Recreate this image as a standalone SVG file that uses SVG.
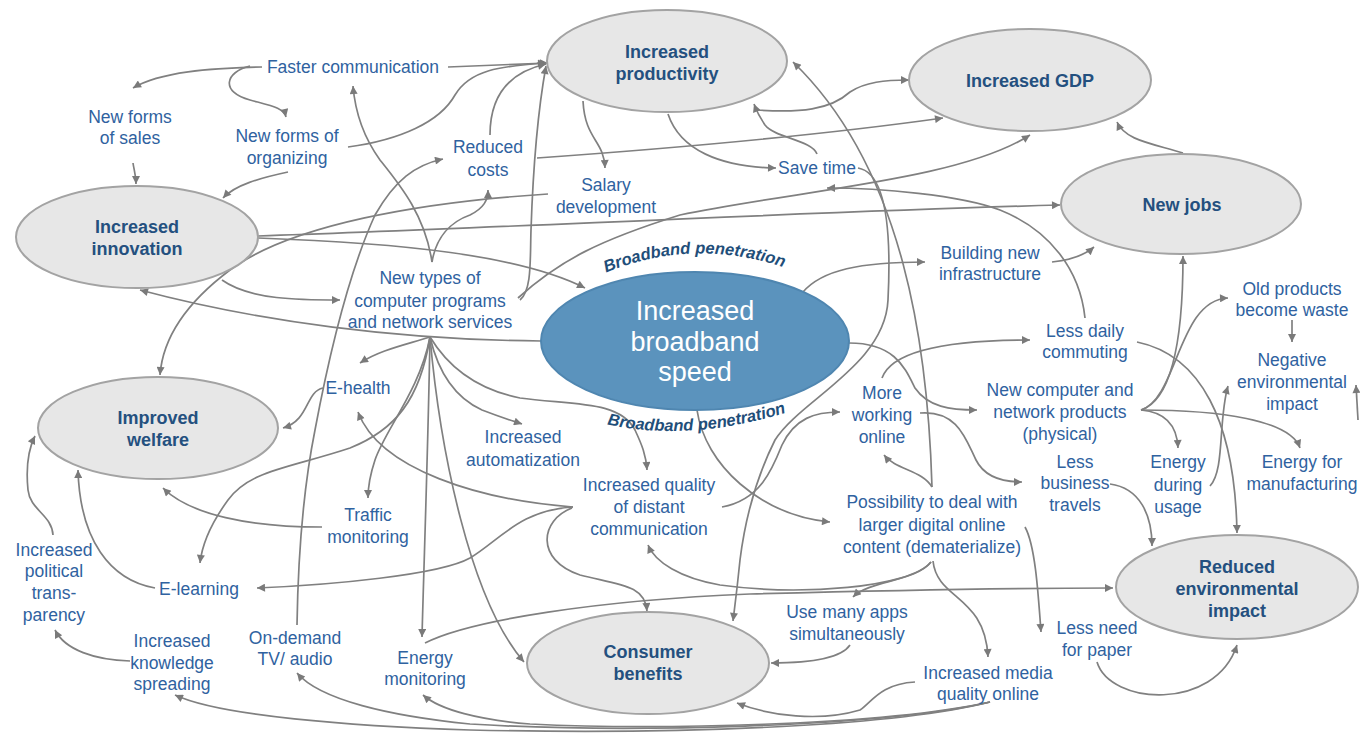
<svg xmlns="http://www.w3.org/2000/svg" width="1360" height="735" viewBox="0 0 1360 735">
<style>
.lbl{font-family:"Liberation Sans",Arial,sans-serif;font-size:17.5px;fill:#2f62a0;text-anchor:middle;dominant-baseline:central}
.el{fill:#e7e7e7;stroke:#a3a3a3;stroke-width:2}
.elt{font-family:"Liberation Sans",Arial,sans-serif;font-size:18px;font-weight:bold;fill:#24507f;text-anchor:middle;dominant-baseline:central}
.bb{fill:#5b93bd;stroke:#4f86b0;stroke-width:2}
.bbt{font-family:"Liberation Sans",Arial,sans-serif;font-size:27px;fill:#ffffff;text-anchor:middle;dominant-baseline:central}
.pen{font-family:"Liberation Sans",Arial,sans-serif;font-size:16.5px;font-weight:bold;font-style:italic;fill:#1f4e79}
#connectors path{fill:none;stroke:#808080;stroke-width:1.7;marker-end:url(#ah)}
</style>
<defs>
<marker id="ah" viewBox="0 0 10 10" refX="10" refY="5" markerWidth="11" markerHeight="8" markerUnits="userSpaceOnUse" orient="auto"><path d="M0,0 L10,5 L0,10 z" fill="#7a7a7a"/></marker>
<path id="penTop" d="M596,277 Q692,233 794,271"/>
<path id="penBot" d="M596,422 Q690,445 797,409"/>
</defs>
<rect width="1360" height="735" fill="#ffffff"/>
<g id="connectors">
<path d="M262,67 C210,68 160,72 133,88"/>
<path d="M250,66 C225,72 220,92 250,100 C272,106 284,108 286,117"/>
<path d="M448,67 L548,63"/>
<path d="M133,163 C134,170 136,175 136,184"/>
<path d="M288,172 C260,178 235,185 223,198"/>
<path d="M348,147 C400,140 440,122 455,95 C470,70 500,66 546,63"/>
<path d="M432,262 C425,215 400,185 380,160 C362,135 355,110 353,86"/>
<path d="M297,625 C298,560 303,490 315,430 C330,350 350,270 375,215 C395,180 415,165 443,159"/>
<path d="M432,262 C436,238 450,222 470,215 C484,208 488,200 488,190"/>
<path d="M490,135 C490,95 510,72 546,64"/>
<path d="M537,158 C650,150 800,138 943,118"/>
<path d="M757,110 C800,113 830,110 850,92 C865,82 885,80 909,80"/>
<path d="M583,101 C585,140 604,140 605,168"/>
<path d="M668,114 C680,150 720,167 776,168"/>
<path d="M817,154 C812,140 775,138 765,125 C760,118 757,112 754,104"/>
<path d="M1085,318 C1080,270 1050,230 1000,210 C960,195 880,188 827,188"/>
<path d="M858,168 C883,172 892,220 888,300 C885,365 800,400 775,440 C755,480 745,520 740,560 C737,590 735,605 733,621"/>
<path d="M697,410 C705,465 760,515 830,522"/>
<path d="M722,507 C760,500 772,470 782,445 C795,418 815,412 840,412"/>
<path d="M882,378 C892,350 950,340 1030,340"/>
<path d="M849,343 C895,343 905,368 915,388 C928,407 950,410 977,410"/>
<path d="M920,413 C958,410 966,440 976,460 C985,478 1005,482 1022,482"/>
<path d="M932,487 C922,470 896,470 884,455"/>
<path d="M803,292 C822,270 860,262 925,262"/>
<path d="M1052,262 C1070,260 1085,255 1094,247"/>
<path d="M1183,153 C1150,143 1125,140 1117,122"/>
<path d="M1141,410 C1172,400 1183,340 1183,256"/>
<path d="M1141,410 C1178,398 1178,300 1228,298"/>
<path d="M1292,320 L1292,342"/>
<path d="M1141,410 C1165,412 1177,425 1178,448"/>
<path d="M1141,410 C1220,410 1290,420 1300,448"/>
<path d="M1210,486 C1225,470 1218,420 1228,386"/>
<path d="M1358,420 L1356,385"/>
<path d="M1137,342 C1200,355 1235,420 1237,533"/>
<path d="M1110,484 C1140,488 1152,515 1152,546"/>
<path d="M1025,527 C1035,545 1038,590 1041,632"/>
<path d="M1097,662 C1110,705 1215,712 1237,645"/>
<path d="M933,561 C937,600 985,595 988,657"/>
<path d="M931,562 C915,582 870,580 853,597"/>
<path d="M425,643 C470,620 600,600 750,594 C900,590 1000,588 1113,588"/>
<path d="M931,562 C910,588 800,596 720,585 C680,578 655,562 648,545"/>
<path d="M572,508 C540,520 535,560 580,575 C620,585 645,585 647,611"/>
<path d="M573,507 C520,510 500,540 470,558 C440,575 330,585 257,588"/>
<path d="M573,507 C480,500 380,470 358,412"/>
<path d="M990,702 C900,725 700,735 470,730 C350,726 220,716 175,695"/>
<path d="M990,702 C880,728 620,733 470,724 C390,716 320,700 297,673"/>
<path d="M990,702 C880,726 650,730 530,724 C480,720 440,710 423,695"/>
<path d="M915,682 C880,684 872,702 860,710 C820,722 770,716 737,703"/>
<path d="M130,661 C95,660 65,650 55,630"/>
<path d="M53,535 C52,515 30,510 28,490 C26,470 28,450 35,436"/>
<path d="M155,588 C110,580 80,540 78,470"/>
<path d="M322,527 C250,527 190,515 163,488"/>
<path d="M430,337 C420,400 395,430 350,448 C290,468 250,470 228,500 C212,522 202,545 200,563"/>
<path d="M430,337 C405,345 380,350 360,363"/>
<path d="M430,337 C420,390 385,430 375,460 C370,475 368,485 368,498"/>
<path d="M430,337 C428,450 424,560 422,637"/>
<path d="M430,337 C440,450 470,600 524,662"/>
<path d="M430,337 C440,380 460,400 482,410 C500,417 510,420 522,424"/>
<path d="M430,337 C450,370 480,390 520,398 C570,405 620,400 635,430 C642,445 646,455 647,470"/>
<path d="M323,388 C305,392 310,420 283,428"/>
<path d="M541,341 C400,340 260,322 140,290"/>
<path d="M222,280 C250,300 300,300 340,300"/>
<path d="M258,238 C400,243 520,255 585,288"/>
<path d="M258,236 C500,228 800,212 1060,205"/>
<path d="M548,194 C420,202 290,225 230,270 C190,300 163,335 160,375"/>
<path d="M520,300 C532,290 530,260 531,230 C533,170 538,110 546,66"/>
<path d="M518,298 C560,260 600,240 680,215 C800,190 960,180 1030,135"/>
<path d="M850,645 C840,660 800,663 771,663"/>
<path d="M932,487 C928,350 905,170 793,62"/>
</g>
<g id="n-productivity"><ellipse class="el" cx="667" cy="61" rx="120" ry="51"/><text class="elt" x="667" y="52">Increased</text><text class="elt" x="667" y="74">productivity</text></g>
<g id="n-gdp"><ellipse class="el" cx="1030" cy="80" rx="121" ry="51"/><text class="elt" x="1030" y="81">Increased GDP</text></g>
<g id="n-newjobs"><ellipse class="el" cx="1181" cy="204" rx="120" ry="50"/><text class="elt" x="1182" y="205">New jobs</text></g>
<g id="n-innovation"><ellipse class="el" cx="137" cy="237" rx="121" ry="51"/><text class="elt" x="137" y="227">Increased</text><text class="elt" x="137" y="249">innovation</text></g>
<g id="n-welfare"><ellipse class="el" cx="158" cy="428" rx="120" ry="51"/><text class="elt" x="158" y="418">Improved</text><text class="elt" x="158" y="440">welfare</text></g>
<g id="n-consumer"><ellipse class="el" cx="648" cy="663" rx="121" ry="51"/><text class="elt" x="648" y="652">Consumer</text><text class="elt" x="648" y="674">benefits</text></g>
<g id="n-reducedenv"><ellipse class="el" cx="1237" cy="587" rx="121" ry="52"/><text class="elt" x="1237" y="567">Reduced</text><text class="elt" x="1237" y="589">environmental</text><text class="elt" x="1237" y="611">impact</text></g>
<g id="n-broadband"><ellipse class="bb" cx="695" cy="341" rx="154" ry="69"/><text class="bbt" x="695" y="311">Increased</text><text class="bbt" x="695" y="342">broadband</text><text class="bbt" x="695" y="372">speed</text></g>
<g id="n-pentop"><text class="pen"><textPath href="#penTop" startOffset="50%" text-anchor="middle">Broadband penetration</textPath></text></g>
<g id="n-penbot"><text class="pen"><textPath href="#penBot" startOffset="50%" text-anchor="middle">Broadband penetration</textPath></text></g>
<g id="n-faster"><text class="lbl" x="353" y="67">Faster communication</text></g>
<g id="n-sales"><text class="lbl" x="130" y="117">New forms</text><text class="lbl" x="130" y="138">of sales</text></g>
<g id="n-organizing"><text class="lbl" x="287" y="136">New forms of</text><text class="lbl" x="287" y="158">organizing</text></g>
<g id="n-costs"><text class="lbl" x="488" y="147">Reduced</text><text class="lbl" x="488" y="170">costs</text></g>
<g id="n-salary"><text class="lbl" x="606" y="185">Salary</text><text class="lbl" x="606" y="207">development</text></g>
<g id="n-savetime"><text class="lbl" x="817" y="168">Save time</text></g>
<g id="n-building"><text class="lbl" x="990" y="253">Building new</text><text class="lbl" x="990" y="274">infrastructure</text></g>
<g id="n-commuting"><text class="lbl" x="1085" y="331">Less daily</text><text class="lbl" x="1085" y="352">commuting</text></g>
<g id="n-waste"><text class="lbl" x="1292" y="289">Old products</text><text class="lbl" x="1292" y="310">become waste</text></g>
<g id="n-negative"><text class="lbl" x="1292" y="360">Negative</text><text class="lbl" x="1292" y="382">environmental</text><text class="lbl" x="1292" y="404">impact</text></g>
<g id="n-products"><text class="lbl" x="1060" y="390">New computer and</text><text class="lbl" x="1060" y="412">network products</text><text class="lbl" x="1060" y="434">(physical)</text></g>
<g id="n-travels"><text class="lbl" x="1075" y="462">Less</text><text class="lbl" x="1075" y="483">business</text><text class="lbl" x="1075" y="505">travels</text></g>
<g id="n-energyusage"><text class="lbl" x="1178" y="462">Energy</text><text class="lbl" x="1178" y="485">during</text><text class="lbl" x="1178" y="507">usage</text></g>
<g id="n-energymfg"><text class="lbl" x="1302" y="462">Energy for</text><text class="lbl" x="1302" y="484">manufacturing</text></g>
<g id="n-working"><text class="lbl" x="882" y="393">More</text><text class="lbl" x="882" y="415">working</text><text class="lbl" x="882" y="437">online</text></g>
<g id="n-possibility"><text class="lbl" x="932" y="502">Possibility to deal with</text><text class="lbl" x="932" y="525">larger digital online</text><text class="lbl" x="932" y="547">content (dematerialize)</text></g>
<g id="n-paper"><text class="lbl" x="1097" y="628">Less need</text><text class="lbl" x="1097" y="650">for paper</text></g>
<g id="n-media"><text class="lbl" x="988" y="673">Increased media</text><text class="lbl" x="988" y="694">quality online</text></g>
<g id="n-apps"><text class="lbl" x="847" y="612">Use many apps</text><text class="lbl" x="847" y="634">simultaneously</text></g>
<g id="n-quality"><text class="lbl" x="649" y="485">Increased quality</text><text class="lbl" x="649" y="507">of distant</text><text class="lbl" x="649" y="529">communication</text></g>
<g id="n-automat"><text class="lbl" x="523" y="437">Increased</text><text class="lbl" x="523" y="460">automatization</text></g>
<g id="n-ehealth"><text class="lbl" x="358" y="388">E-health</text></g>
<g id="n-traffic"><text class="lbl" x="368" y="515">Traffic</text><text class="lbl" x="368" y="537">monitoring</text></g>
<g id="n-newtypes"><text class="lbl" x="430" y="278">New types of</text><text class="lbl" x="430" y="301">computer programs</text><text class="lbl" x="430" y="322">and network services</text></g>
<g id="n-elearning"><text class="lbl" x="199" y="589">E-learning</text></g>
<g id="n-political"><text class="lbl" x="54" y="550">Increased</text><text class="lbl" x="54" y="571">political</text><text class="lbl" x="54" y="593">trans-</text><text class="lbl" x="54" y="615">parency</text></g>
<g id="n-knowledge"><text class="lbl" x="172" y="641">Increased</text><text class="lbl" x="172" y="663">knowledge</text><text class="lbl" x="172" y="684">spreading</text></g>
<g id="n-ondemand"><text class="lbl" x="295" y="638">On-demand</text><text class="lbl" x="295" y="659">TV/ audio</text></g>
<g id="n-energymon"><text class="lbl" x="425" y="658">Energy</text><text class="lbl" x="425" y="679">monitoring</text></g>
</svg>
